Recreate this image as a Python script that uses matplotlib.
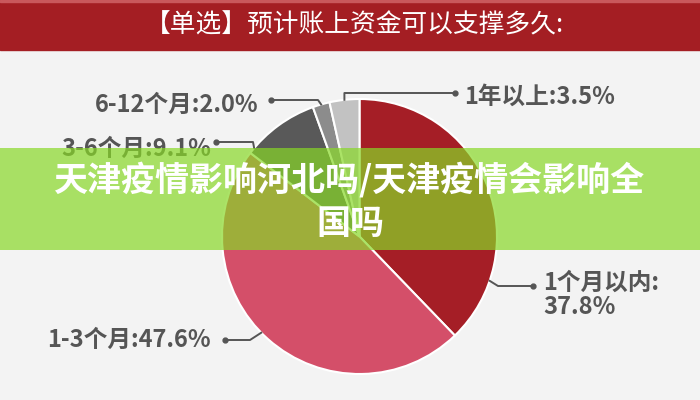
import numpy as np
import matplotlib.pyplot as plt
from matplotlib.patches import Rectangle

plt.rcParams['font.family'] = ['Noto Sans CJK SC', 'DejaVu Sans']

# data
labels = ['1个月以内:\n37.8%', '1-3个月:47.6%', '3-6个月:9.1%', '6-12个月:2.0%', '1年以上:3.5%']
values = [37.8, 47.6, 9.1, 2.0, 3.5]
colors = ['#A51E26', '#D44F69', '#595959', '#8C8C8C', '#C2C2C2']
title = '【单选】预计账上资金可以支撑多久:'
banner = '天津疫情影响河北吗/天津疫情会影响全\n国吗'

# layout (pixel coords, y down)
cx, cy, r = 359.5, 236.5, 137.5
# anchor angle on the rim (deg, clockwise from top), elbow, dot, text pos, alignment
leaders = [
    (108.8, (498, 286), (533, 286), (543, 295), 'left'),
    (225.6, (250, 340), (225, 340), (211, 340), 'right'),
    (310.0, (253, 142), (216, 142), (211, 149), 'right'),
    (343.8, (318, 100), (271, 100), (259, 105), 'right'),
    (353.7, (344.4, 93), (455, 93), (464, 97), 'left'),
]

fig = plt.figure(figsize=(7, 4), dpi=100)
fig.patch.set_facecolor('#F3F3F3')
ax = fig.add_axes([0, 0, 1, 1])
ax.set_facecolor('#F3F3F3')

# y axis is inverted, so startangle 270 + counterclock gives clockwise from the top
ax.pie(values, colors=colors, startangle=270, counterclock=True,
       center=(cx, cy), radius=r, frame=True,
       wedgeprops=dict(edgecolor='white', linewidth=1.5))

for (ang, elbow, dot, tpos, ha), lab in zip(leaders, labels):
    t = np.deg2rad(ang)
    ax0 = (cx + r * np.sin(t), cy - r * np.cos(t))
    ax.plot([ax0[0], elbow[0], dot[0]], [ax0[1], elbow[1], dot[1]],
            color='#555555', lw=1.4, zorder=3)
    ax.plot(dot[0], dot[1], 'o', color='#555555', ms=3.5, zorder=3)
    ax.text(tpos[0], tpos[1], lab, ha=ha, va='center', fontsize=17,
            fontweight='bold', color='#555555', linespacing=1.0, zorder=3)

# title band
ax.add_patch(Rectangle((0, 0), 700, 50, color='#A41E23', zorder=4))
ax.add_patch(Rectangle((0, 0), 700, 2, color='#C9585C', zorder=4))
ax.text(354, 25, title, ha='center', va='center', fontsize=18.5,
        color='white', zorder=5)

# green banner
ax.add_patch(Rectangle((0, 148), 700, 102, color='#88D827', alpha=0.7,
                       lw=0, zorder=6))
ax.text(350, 201, banner, ha='center', va='center', fontsize=24.5,
        fontweight='bold', color='white', linespacing=1.3, zorder=7)

ax.set_xlim(0, 700)
ax.set_ylim(400, 0)
ax.axis('off')

fig.savefig('out.png', dpi=100, facecolor=fig.get_facecolor())
